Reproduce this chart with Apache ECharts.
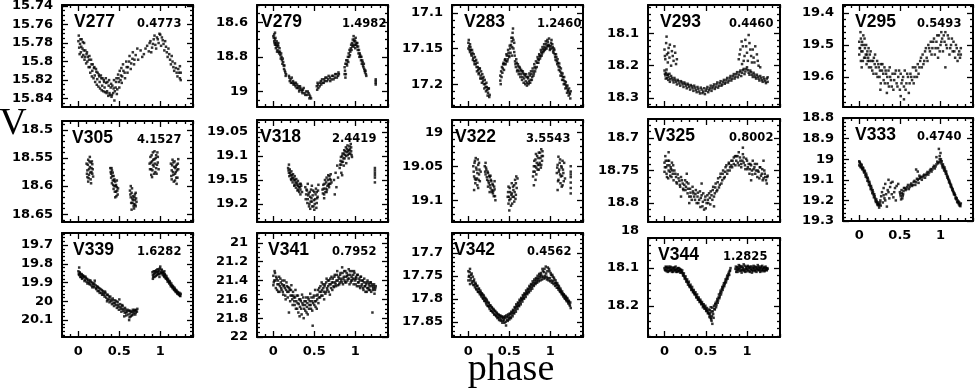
<!DOCTYPE html>
<html>
<head>
<meta charset="utf-8">
<script src="https://cdn.jsdelivr.net/npm/echarts@6.0.0/dist/echarts.min.js"></script>
<style>
html, body { margin: 0; padding: 0; background: #fff; }
#chart { width: 976px; height: 390px; }
</style>
</head>
<body>
<div id="chart"></div>
<script>
// star names and periods (days), in panel order
const stars = ['V277', 'V279', 'V283', 'V293', 'V295', 'V305', 'V318', 'V322', 'V325', 'V333', 'V339', 'V341', 'V342', 'V344'];
const periods = ['0.4773', '1.4982', '1.2460', '0.4460', '0.5493', '4.1527', '2.4419', '3.5543', '0.8002', '0.4740', '1.6282', '0.7952', '0.4562', '1.2825'];

// phase axis labels
const xLabels = [0, 0.5, 1];

// V axis labels per panel
const yLabels = [
  [15.74, 15.76, 15.78, 15.8, 15.82, 15.84],
  [18.6, 18.8, 19],
  [17.1, 17.15, 17.2],
  [18.1, 18.2, 18.3],
  [19.4, 19.5, 19.6],
  [18.5, 18.55, 18.6, 18.65],
  [19.05, 19.1, 19.15, 19.2],
  [19, 19.05, 19.1],
  [18.7, 18.75, 18.8],
  [18.8, 18.9, 19, 19.1, 19.2, 19.3],
  [19.7, 19.8, 19.9, 20, 20.1],
  [21, 21.2, 21.4, 21.6, 21.8, 22],
  [17.7, 17.75, 17.8, 17.85],
  [18.1, 18.2]
];

// light curves: [phase, V]
const v277 = [[0.00,15.778],[0.01,15.785],[0.02,15.781],[0.03,15.790],[0.04,15.776],[0.05,15.786],[0.06,15.793],[0.07,15.780],[0.08,15.795],[0.10,15.792],[0.11,15.800],[0.13,15.798],[0.14,15.806],[0.16,15.803],[0.17,15.810],[0.19,15.807],[0.20,15.815],[0.22,15.811],[0.23,15.819],[0.25,15.814],[0.26,15.822],[0.28,15.818],[0.29,15.826],[0.31,15.820],[0.32,15.828],[0.34,15.823],[0.35,15.832],[0.37,15.826],[0.38,15.834],[0.40,15.824],[0.41,15.836],[0.43,15.829],[0.44,15.842],[0.46,15.822],[0.47,15.835],[0.49,15.818],[0.50,15.828],[0.52,15.815],[0.53,15.823],[0.55,15.810],[0.57,15.818],[0.59,15.806],[0.60,15.812],[0.62,15.800],[0.64,15.808],[0.66,15.797],[0.68,15.803],[0.70,15.793],[0.73,15.798],[0.76,15.788],[0.80,15.792],[0.84,15.783],[0.86,15.789],[0.88,15.778],[0.90,15.785],[0.92,15.776],[0.94,15.782],[0.96,15.774],[0.98,15.780],[1.00,15.771],[1.01,15.783],[1.03,15.777],[1.05,15.788],[1.07,15.784],[1.09,15.795],[1.11,15.792],[1.13,15.803],[1.15,15.800],[1.17,15.810],[1.19,15.807],[1.21,15.816],[1.23,15.812],[1.25,15.820],[1.24,15.805],
  [0.005,15.772],[0.015,15.792],[0.025,15.776],[0.035,15.784],[0.045,15.795],[0.055,15.779],[0.065,15.788],[0.075,15.798],[0.085,15.788],[0.095,15.802],[0.105,15.790],[0.115,15.795],[0.125,15.806],[0.135,15.794],[0.145,15.812],[0.155,15.798],[0.165,15.816],[0.175,15.803],[0.185,15.818],[0.195,15.806],[0.205,15.822],[0.215,15.808],[0.225,15.825],[0.235,15.812],[0.245,15.827],[0.255,15.816],[0.265,15.829],[0.275,15.815],[0.285,15.831],[0.295,15.818],[0.305,15.832],[0.315,15.822],[0.325,15.833],[0.335,15.818],[0.345,15.834],[0.355,15.822],[0.365,15.837],[0.375,15.820],[0.385,15.836],[0.395,15.828],[0.405,15.838],[0.415,15.826],[0.425,15.834],[0.435,15.820],[0.445,15.832],[0.455,15.828],[0.465,15.818],[0.475,15.830],[0.485,15.814],[0.495,15.822],[0.505,15.810],[0.515,15.820],[0.525,15.807],[0.535,15.816],[0.545,15.803],[0.565,15.812],[0.585,15.800],[0.605,15.806],[0.625,15.794],[0.645,15.802],[0.665,15.790],[0.685,15.798],[0.72,15.786],[0.78,15.795],[0.82,15.786],[0.87,15.780],[0.89,15.790],[0.91,15.781],[0.93,15.772],[0.95,15.786],[0.97,15.776],[0.99,15.770],[1.02,15.774],[1.04,15.781],[1.06,15.778],[1.08,15.790],[1.10,15.786],[1.12,15.798],[1.14,15.794],[1.16,15.806],[1.18,15.802],[1.20,15.812],[1.22,15.808],[1.24,15.818],[1.25,15.812]];

const v279 = [[0.00,18.68],[0.01,18.71],[0.02,18.70],[0.02,18.73],[0.03,18.72],[0.04,18.74],[0.04,18.71],[0.05,18.76],[0.06,18.74],[0.07,18.78],[0.08,18.77],[0.09,18.81],[0.10,18.80],[0.11,18.84],[0.12,18.83],[0.13,18.87],[0.14,18.88],[0.15,18.91],[0.01,18.67],[0.03,18.75],
  [0.005,18.69],[0.015,18.72],[0.025,18.69],[0.035,18.73],[0.045,18.77],[0.055,18.73],[0.065,18.77],[0.075,18.75],[0.085,18.79],[0.095,18.78],[0.105,18.82],[0.115,18.81],[0.125,18.85],[0.135,18.85],[0.145,18.89],[0.155,18.90],[0.02,18.66],[0.06,18.72],
  [0.19,18.91],[0.20,18.94],[0.21,18.93],[0.23,18.95],[0.24,18.94],[0.26,18.96],[0.27,18.97],[0.29,18.96],[0.30,18.98],[0.32,18.99],[0.33,18.98],[0.35,19.00],[0.36,18.99],[0.38,19.01],[0.40,19.00],[0.41,19.02],[0.43,19.01],[0.45,19.03],[0.44,19.04],
  [0.195,18.92],[0.215,18.95],[0.225,18.92],[0.245,18.96],[0.255,18.95],[0.275,18.95],[0.285,18.98],[0.305,18.97],[0.315,19.00],[0.325,18.97],[0.345,18.99],[0.355,19.01],[0.37,18.98],[0.39,19.02],[0.42,19.00],[0.44,19.02],[0.46,19.04],
  [0.53,18.97],[0.54,18.95],[0.55,18.98],[0.57,18.95],[0.58,18.94],[0.60,18.95],[0.62,18.93],[0.63,18.94],[0.65,18.92],[0.67,18.93],[0.69,18.92],[0.71,18.93],[0.73,18.91],[0.75,18.92],[0.77,18.90],[0.79,18.91],[0.80,18.90],
  [0.535,18.99],[0.545,18.96],[0.565,18.97],[0.585,18.96],[0.595,18.93],[0.615,18.95],[0.635,18.92],[0.655,18.94],[0.675,18.91],[0.695,18.94],[0.715,18.91],[0.735,18.93],[0.755,18.90],[0.775,18.92],[0.795,18.89],
  [0.87,18.90],[0.87,18.86],[0.88,18.92],[0.88,18.84],[0.89,18.82],[0.90,18.85],[0.91,18.80],[0.92,18.78],[0.93,18.76],[0.94,18.77],[0.95,18.73],[0.96,18.72],[0.97,18.70],[0.98,18.68],[0.98,18.74],[0.99,18.70],[1.00,18.71],[1.00,18.75],[1.01,18.73],[1.02,18.74],[1.03,18.76],[1.04,18.78],[1.05,18.80],[1.06,18.79],[1.07,18.82],[1.08,18.84],[1.09,18.83],[1.10,18.86],[1.11,18.87],[1.12,18.89],[1.13,18.90],
  [0.875,18.88],[0.885,18.90],[0.895,18.84],[0.905,18.82],[0.915,18.83],[0.925,18.80],[0.935,18.79],[0.945,18.75],[0.955,18.76],[0.965,18.74],[0.975,18.73],[0.985,18.71],[0.995,18.73],[1.005,18.69],[1.015,18.72],[1.025,18.72],[1.035,18.74],[1.045,18.76],[1.055,18.78],[1.065,18.80],[1.075,18.80],[1.085,18.82],[1.095,18.85],[1.105,18.84],[1.115,18.88],[1.125,18.88],[1.135,18.91],
  [1.25,18.93],[1.25,18.95],[1.25,18.94],[1.25,18.96]];

const v283 = [[0.00,17.142],[0.00,17.150],[0.01,17.147],[0.02,17.155],[0.02,17.144],[0.03,17.152],[0.04,17.160],[0.05,17.156],[0.06,17.163],[0.07,17.168],[0.08,17.162],[0.09,17.172],[0.10,17.176],[0.11,17.170],[0.12,17.180],[0.13,17.184],[0.14,17.178],[0.15,17.188],[0.16,17.192],[0.17,17.186],[0.18,17.196],[0.19,17.200],[0.20,17.194],[0.21,17.204],[0.22,17.198],[0.23,17.208],[0.24,17.212],[0.25,17.206],[0.26,17.215],
  [0.005,17.138],[0.015,17.152],[0.025,17.148],[0.035,17.158],[0.045,17.152],[0.055,17.166],[0.065,17.158],[0.075,17.172],[0.085,17.168],[0.095,17.166],[0.105,17.182],[0.115,17.176],[0.125,17.186],[0.135,17.178],[0.145,17.192],[0.155,17.182],[0.165,17.198],[0.175,17.192],[0.185,17.190],[0.195,17.206],[0.205,17.200],[0.215,17.210],[0.225,17.204],[0.235,17.216],[0.245,17.206],[0.255,17.218],
  [0.39,17.195],[0.39,17.188],[0.40,17.182],[0.41,17.176],[0.42,17.178],[0.43,17.170],[0.44,17.172],[0.45,17.165],[0.46,17.168],[0.47,17.160],[0.48,17.165],[0.49,17.156],[0.50,17.162],[0.51,17.150],[0.52,17.145],[0.53,17.140],[0.54,17.135],[0.54,17.128],[0.55,17.150],[0.56,17.142],[0.53,17.160],[0.56,17.155],
  [0.395,17.200],[0.405,17.190],[0.415,17.184],[0.425,17.172],[0.435,17.180],[0.445,17.166],[0.455,17.172],[0.465,17.158],[0.475,17.168],[0.485,17.152],[0.495,17.160],[0.505,17.146],[0.515,17.156],[0.525,17.135],[0.535,17.148],[0.545,17.122],[0.55,17.138],[0.565,17.160],[0.575,17.172],
  [0.57,17.168],[0.58,17.176],[0.59,17.170],[0.60,17.180],[0.61,17.175],[0.62,17.182],[0.63,17.178],[0.64,17.186],[0.65,17.182],[0.66,17.190],[0.67,17.185],[0.68,17.192],[0.69,17.188],[0.70,17.196],[0.71,17.190],[0.72,17.198],[0.73,17.192],[0.74,17.196],[0.75,17.188],[0.76,17.194],[0.77,17.186],[0.78,17.190],[0.79,17.182],[0.80,17.185],[0.81,17.176],[0.82,17.178],
  [0.585,17.165],[0.595,17.182],[0.605,17.172],[0.615,17.186],[0.625,17.176],[0.635,17.190],[0.645,17.180],[0.655,17.194],[0.665,17.182],[0.675,17.198],[0.685,17.186],[0.695,17.200],[0.705,17.186],[0.715,17.202],[0.725,17.190],[0.735,17.200],[0.745,17.185],[0.755,17.198],[0.765,17.182],[0.775,17.194],[0.785,17.178],[0.795,17.188],[0.805,17.172],[0.815,17.182],[0.825,17.168],[0.835,17.176],
  [0.84,17.170],[0.85,17.165],[0.86,17.166],[0.87,17.160],[0.88,17.161],[0.89,17.155],[0.90,17.157],[0.91,17.151],[0.92,17.153],[0.93,17.148],[0.94,17.150],[0.95,17.144],[0.96,17.147],[0.97,17.141],[0.98,17.145],[0.99,17.147],[1.00,17.150],
  [0.845,17.162],[0.855,17.170],[0.865,17.158],[0.875,17.164],[0.885,17.152],[0.895,17.160],[0.905,17.148],[0.915,17.155],[0.925,17.144],[0.935,17.152],[0.945,17.140],[0.955,17.150],[0.965,17.138],[0.975,17.146],[0.985,17.136],[0.995,17.152],
  [1.01,17.142],[1.02,17.150],[1.03,17.148],[1.04,17.156],[1.05,17.152],[1.06,17.162],[1.07,17.158],[1.08,17.168],[1.09,17.165],[1.10,17.175],[1.11,17.171],[1.12,17.182],[1.13,17.178],[1.14,17.188],[1.15,17.185],[1.16,17.194],[1.17,17.190],[1.18,17.200],[1.19,17.197],[1.20,17.205],[1.21,17.202],[1.22,17.210],[1.23,17.206],[1.24,17.214],[1.25,17.210],
  [1.005,17.146],[1.015,17.138],[1.025,17.144],[1.035,17.154],[1.045,17.150],[1.055,17.158],[1.065,17.166],[1.075,17.162],[1.085,17.172],[1.095,17.170],[1.105,17.180],[1.115,17.176],[1.125,17.188],[1.135,17.184],[1.145,17.194],[1.155,17.190],[1.165,17.200],[1.175,17.196],[1.185,17.206],[1.195,17.202],[1.205,17.212],[1.215,17.208],[1.225,17.216],[1.235,17.212],[1.245,17.220]];

const v293 = [[0.00,18.215],[0.01,18.230],[0.02,18.222],[0.03,18.238],[0.04,18.228],[0.05,18.235],[0.07,18.242],[0.08,18.232],[0.10,18.245],[0.12,18.238],[0.14,18.250],[0.16,18.244],[0.18,18.255],[0.20,18.248],[0.22,18.258],[0.24,18.252],[0.26,18.262],[0.28,18.256],[0.30,18.266],[0.32,18.260],[0.34,18.270],[0.36,18.262],[0.38,18.275],[0.40,18.266],[0.42,18.280],[0.44,18.268],[0.46,18.285],[0.48,18.270],[0.50,18.278],[0.52,18.266],[0.54,18.275],[0.56,18.262],[0.58,18.270],[0.60,18.258],[0.62,18.266],[0.64,18.252],[0.66,18.262],[0.68,18.248],[0.70,18.258],[0.72,18.244],[0.74,18.252],[0.76,18.238],[0.78,18.246],[0.80,18.232],[0.82,18.240],[0.84,18.226],[0.86,18.234],[0.88,18.220],[0.90,18.228],[0.92,18.215],[0.94,18.222],[0.96,18.210],[0.98,18.218],[1.00,18.205],[1.02,18.222],[1.04,18.215],[1.06,18.228],[1.08,18.222],[1.10,18.235],[1.12,18.228],[1.14,18.240],[1.16,18.232],[1.18,18.245],[1.20,18.236],[1.22,18.248],[1.24,18.240],[1.25,18.250],
  [0.005,18.225],[0.015,18.240],[0.025,18.212],[0.035,18.228],[0.045,18.244],[0.06,18.225],[0.065,18.250],[0.09,18.238],[0.11,18.252],[0.13,18.244],[0.15,18.258],[0.17,18.248],[0.19,18.262],[0.21,18.252],[0.23,18.266],[0.25,18.256],[0.27,18.270],[0.29,18.260],[0.31,18.274],[0.33,18.264],[0.35,18.278],[0.37,18.268],[0.39,18.282],[0.41,18.272],[0.43,18.286],[0.45,18.274],[0.47,18.280],[0.49,18.288],[0.51,18.272],[0.53,18.282],[0.55,18.270],[0.57,18.278],[0.59,18.264],[0.61,18.272],[0.63,18.258],[0.65,18.268],[0.67,18.254],[0.69,18.262],[0.71,18.250],[0.73,18.256],[0.75,18.244],[0.77,18.252],[0.79,18.238],[0.81,18.246],[0.83,18.232],[0.85,18.240],[0.87,18.226],[0.89,18.236],[0.91,18.220],[0.93,18.232],[0.95,18.214],[0.97,18.226],[0.99,18.210],[1.01,18.214],[1.03,18.228],[1.05,18.220],[1.07,18.235],[1.09,18.228],[1.11,18.240],[1.13,18.234],[1.15,18.246],[1.17,18.238],[1.19,18.250],[1.21,18.242],[1.23,18.254],[1.25,18.236],
  [0.00,18.150],[0.01,18.180],[0.02,18.130],[0.03,18.165],[0.04,18.190],[0.05,18.145],[0.06,18.175],[0.08,18.200],[0.09,18.155],[0.11,18.185],[0.12,18.140],[0.14,18.195],[0.90,18.180],[0.92,18.150],[0.94,18.195],[0.95,18.140],[0.97,18.170],[0.98,18.120],[1.00,18.160],[1.01,18.185],[1.03,18.130],[1.05,18.170],[1.07,18.150],[1.09,18.190],[1.12,18.165],[1.14,18.200],
  [0.005,18.170],[0.025,18.110],[0.045,18.160],[0.065,18.135],[0.10,18.170],[0.13,18.160],[0.15,18.180],[0.91,18.165],[0.935,18.125],[0.96,18.185],[0.99,18.140],[1.02,18.105],[1.04,18.150],[1.06,18.190],[1.08,18.175],[1.10,18.140],[1.13,18.185],[1.16,18.205]];

const v295 = [[0.00,19.49],[0.00,19.53],[0.01,19.51],[0.02,19.48],[0.02,19.55],[0.03,19.50],[0.04,19.52],[0.05,19.47],[0.06,19.54],[0.07,19.51],[0.08,19.53],[0.09,19.56],[0.10,19.52],[0.11,19.54],[0.12,19.57],[0.13,19.53],[0.15,19.55],[0.16,19.58],[0.18,19.54],[0.19,19.56],[0.21,19.59],[0.22,19.55],[0.24,19.57],[0.25,19.60],[0.27,19.56],[0.28,19.58],[0.30,19.61],[0.31,19.57],[0.33,19.59],[0.35,19.62],[0.36,19.58],[0.38,19.60],[0.40,19.63],[0.41,19.59],[0.43,19.61],[0.45,19.58],[0.46,19.62],[0.48,19.60],[0.50,19.64],[0.51,19.59],[0.53,19.61],[0.55,19.63],[0.56,19.58],[0.58,19.62],[0.60,19.60],[0.61,19.65],[0.63,19.59],[0.65,19.61],[0.66,19.57],[0.68,19.60],[0.70,19.58],[0.72,19.56],[0.73,19.59],[0.75,19.55],[0.77,19.57],[0.78,19.53],[0.80,19.55],[0.82,19.51],[0.83,19.54],[0.85,19.50],[0.87,19.52],[0.88,19.49],[0.90,19.51],[0.92,19.48],[0.93,19.53],[0.95,19.49],[0.97,19.51],[0.98,19.47],[1.00,19.50],[1.02,19.48],[1.03,19.52],[1.05,19.49],[1.06,19.46],[1.08,19.51],[1.10,19.48],[1.11,19.53],[1.13,19.50],[1.15,19.52],[1.16,19.49],[1.18,19.54],[1.20,19.51],[1.21,19.55],[1.23,19.52],[1.24,19.54],[1.25,19.53],[0.34,19.65],[0.55,19.67],[0.03,19.57],[1.06,19.57],
  [0.005,19.51],[0.015,19.46],[0.025,19.52],[0.035,19.49],[0.045,19.55],[0.055,19.50],[0.065,19.48],[0.075,19.54],[0.085,19.50],[0.095,19.53],[0.105,19.55],[0.115,19.51],[0.125,19.55],[0.14,19.52],[0.145,19.57],[0.17,19.55],[0.175,19.59],[0.195,19.53],[0.205,19.57],[0.225,19.60],[0.235,19.56],[0.255,19.58],[0.265,19.62],[0.285,19.56],[0.295,19.59],[0.315,19.62],[0.325,19.58],[0.345,19.60],[0.365,19.63],[0.375,19.57],[0.39,19.61],[0.42,19.64],[0.44,19.59],[0.47,19.63],[0.49,19.58],[0.52,19.62],[0.54,19.60],[0.57,19.64],[0.59,19.59],[0.62,19.62],[0.64,19.60],[0.67,19.62],[0.69,19.57],[0.71,19.60],[0.74,19.57],[0.76,19.54],[0.79,19.56],[0.81,19.52],[0.84,19.55],[0.86,19.51],[0.89,19.53],[0.91,19.49],[0.94,19.51],[0.96,19.47],[0.99,19.52],[1.01,19.49],[1.04,19.47],[1.07,19.50],[1.09,19.47],[1.12,19.51],[1.14,19.48],[1.17,19.52],[1.19,19.50],[1.22,19.53],[1.25,19.51],[0.97,19.54],[1.01,19.46],[0.51,19.66],[0.26,19.64]];

const v305 = [[0.10,18.560],[0.11,18.572],[0.12,18.553],[0.13,18.580],[0.14,18.566],[0.15,18.588],[0.16,18.575],[0.17,18.561],[0.11,18.584],[0.13,18.570],[0.15,18.558],[0.17,18.578],[0.12,18.592],[0.14,18.548],[0.16,18.568],[0.18,18.583],
  [0.105,18.578],[0.115,18.562],[0.125,18.586],[0.135,18.556],[0.145,18.576],[0.155,18.595],[0.165,18.556],[0.175,18.570],
  [0.39,18.568],[0.40,18.578],[0.41,18.572],[0.42,18.590],[0.43,18.582],[0.44,18.600],[0.45,18.592],[0.46,18.610],[0.47,18.602],[0.48,18.615],[0.40,18.585],[0.42,18.576],[0.44,18.588],[0.46,18.598],[0.45,18.620],[0.43,18.605],[0.47,18.590],[0.41,18.595],
  [0.395,18.575],[0.405,18.568],[0.415,18.582],[0.425,18.598],[0.435,18.590],[0.445,18.610],[0.455,18.600],[0.465,18.618],[0.475,18.608],[0.485,18.604],
  [0.63,18.608],[0.64,18.620],[0.65,18.612],[0.66,18.630],[0.67,18.618],[0.68,18.640],[0.69,18.625],[0.70,18.612],[0.71,18.628],[0.64,18.600],[0.66,18.622],[0.68,18.632],[0.70,18.636],[0.65,18.642],[0.69,18.615],
  [0.635,18.615],[0.645,18.630],[0.655,18.604],[0.665,18.625],[0.675,18.636],[0.685,18.620],[0.695,18.633],[0.705,18.622],
  [0.87,18.560],[0.88,18.548],[0.89,18.570],[0.90,18.556],[0.91,18.540],[0.92,18.565],[0.93,18.552],[0.94,18.575],[0.95,18.545],[0.96,18.562],[0.97,18.558],[0.98,18.570],[0.89,18.580],[0.91,18.562],[0.93,18.538],[0.95,18.568],[0.97,18.548],[0.90,18.584],
  [0.875,18.570],[0.885,18.558],[0.895,18.545],[0.905,18.572],[0.915,18.553],[0.925,18.578],[0.935,18.560],[0.945,18.550],[0.955,18.578],[0.965,18.540],
  [1.13,18.560],[1.14,18.572],[1.15,18.553],[1.16,18.580],[1.17,18.566],[1.18,18.590],[1.19,18.575],[1.20,18.562],[1.21,18.585],[1.22,18.570],[1.14,18.588],[1.16,18.558],[1.18,18.578],[1.20,18.596],[1.22,18.552],[1.19,18.565],
  [1.135,18.582],[1.145,18.563],[1.155,18.575],[1.165,18.592],[1.175,18.556],[1.185,18.568],[1.195,18.585],[1.205,18.572],[1.215,18.560]];

const v318 = [[0.18,19.125],[0.19,19.135],[0.20,19.128],[0.21,19.140],[0.22,19.132],[0.23,19.145],[0.24,19.138],[0.25,19.150],[0.26,19.142],[0.27,19.155],[0.28,19.148],[0.29,19.160],[0.30,19.152],[0.31,19.165],[0.32,19.158],[0.33,19.170],[0.34,19.162],[0.35,19.175],[0.19,19.118],[0.22,19.150],[0.26,19.160],[0.30,19.170],[0.33,19.180],
  [0.185,19.130],[0.195,19.142],[0.205,19.135],[0.215,19.148],[0.225,19.140],[0.235,19.155],[0.245,19.146],[0.255,19.162],[0.265,19.150],[0.275,19.166],[0.285,19.156],[0.295,19.172],[0.305,19.162],[0.315,19.175],[0.325,19.165],[0.335,19.158],
  [0.39,19.165],[0.40,19.180],[0.41,19.172],[0.42,19.190],[0.43,19.178],[0.44,19.200],[0.45,19.185],[0.46,19.170],[0.47,19.195],[0.48,19.182],[0.49,19.205],[0.50,19.175],[0.51,19.190],[0.52,19.168],[0.53,19.198],[0.54,19.185],[0.55,19.160],[0.42,19.158],[0.45,19.210],[0.50,19.212],[0.47,19.162],[0.53,19.175],
  [0.395,19.190],[0.405,19.170],[0.415,19.198],[0.425,19.182],[0.435,19.205],[0.445,19.175],[0.455,19.195],[0.465,19.188],[0.475,19.205],[0.485,19.172],[0.495,19.192],[0.505,19.200],[0.515,19.180],[0.525,19.208],[0.535,19.188],[0.545,19.172],
  [0.60,19.170],[0.61,19.160],[0.62,19.180],[0.63,19.150],[0.64,19.168],[0.65,19.145],[0.66,19.162],[0.67,19.140],[0.68,19.158],[0.69,19.148],[0.70,19.138],[0.71,19.155],[0.62,19.188],[0.65,19.175],[0.68,19.165],[0.70,19.150],
  [0.605,19.178],[0.615,19.168],[0.625,19.158],[0.635,19.175],[0.645,19.155],[0.655,19.170],[0.665,19.150],[0.675,19.160],[0.685,19.142],[0.695,19.158],
  [0.74,19.150],[0.75,19.180],[0.76,19.135],[0.77,19.165],[0.78,19.120],[0.79,19.145],
  [0.81,19.125],[0.82,19.110],[0.83,19.118],[0.84,19.100],[0.85,19.112],[0.86,19.095],[0.87,19.105],[0.88,19.090],[0.89,19.100],[0.90,19.085],[0.91,19.098],[0.92,19.088],[0.93,19.080],[0.94,19.095],[0.95,19.090],[0.96,19.102],[0.83,19.135],[0.86,19.120],[0.89,19.115],[0.92,19.105],[0.95,19.082],[0.84,19.140],
  [0.815,19.118],[0.825,19.102],[0.835,19.112],[0.845,19.095],[0.855,19.105],[0.865,19.088],[0.875,19.098],[0.885,19.082],[0.895,19.092],[0.905,19.078],[0.915,19.090],[0.925,19.095],[0.935,19.086],[0.945,19.075],[0.955,19.098],
  [1.24,19.125],[1.24,19.135],[1.24,19.145],[1.24,19.155],[1.24,19.140],[1.24,19.130]];

const v322 = [[0.06,19.050],[0.07,19.065],[0.08,19.042],[0.09,19.070],[0.10,19.055],[0.11,19.078],[0.12,19.048],[0.13,19.062],[0.14,19.072],[0.15,19.058],[0.07,19.085],[0.09,19.038],[0.11,19.060],[0.13,19.045],[0.08,19.068],[0.12,19.082],
  [0.065,19.058],[0.075,19.045],[0.085,19.075],[0.095,19.052],[0.105,19.068],[0.115,19.040],[0.125,19.070],[0.135,19.055],
  [0.20,19.050],[0.21,19.062],[0.22,19.055],[0.23,19.070],[0.24,19.060],[0.25,19.075],[0.26,19.066],[0.27,19.082],[0.28,19.072],[0.29,19.088],[0.30,19.078],[0.31,19.094],[0.32,19.084],[0.33,19.100],[0.21,19.045],[0.24,19.080],[0.27,19.064],[0.30,19.090],[0.32,19.072],[0.26,19.088],
  [0.205,19.058],[0.215,19.052],[0.225,19.066],[0.235,19.058],[0.245,19.072],[0.255,19.064],[0.265,19.078],[0.275,19.070],[0.285,19.085],[0.295,19.076],[0.305,19.086],[0.315,19.080],[0.325,19.094],
  [0.48,19.095],[0.49,19.080],[0.50,19.100],[0.51,19.088],[0.52,19.108],[0.53,19.075],[0.54,19.095],[0.55,19.085],[0.56,19.102],[0.57,19.070],[0.58,19.092],[0.59,19.082],[0.60,19.068],[0.50,19.115],[0.53,19.090],[0.56,19.078],[0.49,19.105],[0.58,19.075],
  [0.485,19.088],[0.495,19.095],[0.505,19.082],[0.515,19.098],[0.525,19.092],[0.535,19.105],[0.545,19.080],[0.555,19.095],[0.565,19.088],[0.575,19.098],[0.585,19.065],
  [0.79,19.065],[0.80,19.050],[0.81,19.058],[0.82,19.040],[0.83,19.052],[0.84,19.035],[0.85,19.048],[0.86,19.030],[0.87,19.045],[0.88,19.038],[0.89,19.025],[0.90,19.042],[0.91,19.035],[0.80,19.078],[0.83,19.062],[0.86,19.055],[0.89,19.048],[0.82,19.070],
  [0.795,19.058],[0.805,19.042],[0.815,19.050],[0.825,19.032],[0.835,19.045],[0.845,19.055],[0.855,19.038],[0.865,19.048],[0.875,19.030],[0.885,19.052],[0.895,19.035],[0.905,19.028],
  [1.08,19.060],[1.09,19.048],[1.10,19.070],[1.11,19.055],[1.12,19.040],[1.13,19.065],[1.14,19.052],[1.15,19.078],[1.16,19.060],[1.17,19.045],[1.18,19.068],[1.09,19.085],[1.12,19.062],[1.15,19.042],[1.10,19.036],[1.14,19.080],
  [1.085,19.052],[1.095,19.072],[1.105,19.058],[1.115,19.045],[1.125,19.075],[1.135,19.050],[1.145,19.064],[1.155,19.055],[1.165,19.072],
  [1.25,19.050],[1.25,19.058],[1.25,19.066],[1.25,19.074],[1.25,19.082],[1.25,19.090],[1.25,19.062]];

const v325 = [[0.00,18.738],[0.00,18.752],[0.01,18.728],[0.02,18.745],[0.03,18.760],[0.04,18.735],[0.05,18.750],[0.06,18.742],[0.07,18.758],[0.08,18.748],[0.09,18.738],[0.10,18.755],[0.11,18.765],[0.12,18.750],[0.14,18.760],[0.15,18.770],[0.16,18.756],[0.18,18.766],[0.19,18.775],[0.20,18.760],[0.22,18.770],[0.23,18.780],[0.25,18.765],[0.26,18.775],[0.28,18.785],[0.29,18.770],[0.31,18.778],[0.32,18.790],[0.34,18.775],[0.35,18.785],[0.37,18.795],[0.38,18.780],[0.40,18.790],[0.41,18.800],[0.43,18.782],[0.44,18.792],[0.46,18.805],[0.47,18.785],[0.49,18.795],[0.50,18.808],[0.52,18.788],[0.53,18.800],[0.55,18.792],[0.56,18.782],[0.58,18.795],[0.59,18.775],[0.61,18.785],[0.62,18.770],[0.64,18.780],[0.65,18.762],[0.67,18.772],[0.68,18.755],[0.70,18.765],[0.71,18.750],[0.73,18.760],[0.74,18.745],[0.76,18.755],[0.78,18.740],[0.79,18.750],[0.81,18.735],[0.82,18.745],[0.84,18.730],[0.86,18.742],[0.87,18.728],[0.89,18.738],[0.90,18.722],[0.92,18.735],[0.93,18.745],[0.95,18.725],[0.96,18.738],[0.98,18.748],[1.00,18.735],[1.01,18.745],[1.03,18.755],[1.04,18.740],[1.06,18.750],[1.07,18.735],[1.09,18.745],[1.10,18.755],[1.12,18.740],[1.13,18.750],[1.15,18.762],[1.16,18.745],[1.18,18.755],[1.19,18.765],[1.21,18.750],[1.22,18.760],[1.24,18.770],[1.25,18.758],
  [0.05,18.722],[0.20,18.790],[0.30,18.800],[0.45,18.770],[0.60,18.805],[0.95,18.715],[1.05,18.765],[1.20,18.735],[0.27,18.755],
  [0.005,18.745],[0.015,18.735],[0.025,18.755],[0.035,18.742],[0.045,18.762],[0.055,18.735],[0.065,18.752],[0.075,18.745],[0.085,18.760],[0.095,18.750],[0.105,18.742],[0.13,18.755],[0.145,18.768],[0.17,18.762],[0.185,18.772],[0.21,18.765],[0.225,18.778],[0.24,18.772],[0.255,18.780],[0.27,18.768],[0.285,18.778],[0.30,18.790],[0.315,18.784],[0.33,18.795],[0.345,18.782],[0.36,18.790],[0.375,18.786],[0.39,18.800],[0.405,18.784],[0.42,18.795],[0.435,18.806],[0.45,18.788],[0.465,18.798],[0.48,18.810],[0.495,18.790],[0.51,18.800],[0.525,18.795],[0.54,18.785],[0.555,18.802],[0.57,18.788],[0.585,18.780],[0.60,18.790],[0.615,18.776],[0.63,18.782],[0.645,18.768],[0.66,18.776],[0.675,18.760],[0.69,18.770],[0.705,18.755],[0.72,18.762],[0.735,18.752],[0.75,18.742],[0.765,18.750],[0.78,18.738],[0.795,18.745],[0.81,18.742],[0.825,18.735],[0.84,18.740],[0.855,18.728],[0.87,18.735],[0.885,18.728],[0.90,18.742],[0.915,18.730],[0.93,18.740],[0.945,18.735],[0.96,18.730],[0.975,18.742],[0.99,18.732],[1.005,18.748],[1.02,18.740],[1.035,18.748],[1.05,18.742],[1.065,18.756],[1.08,18.748],[1.095,18.740],[1.11,18.750],[1.125,18.760],[1.14,18.752],[1.155,18.745],[1.17,18.758],[1.185,18.748],[1.20,18.762],[1.215,18.755],[1.23,18.765],[1.245,18.760]];

const v333 = [[0.00,19.010],[0.00,19.030],[0.01,19.020],[0.02,19.040],[0.03,19.030],[0.04,19.050],[0.05,19.045],[0.06,19.065],[0.07,19.060],[0.08,19.085],[0.09,19.080],[0.10,19.105],[0.11,19.100],[0.12,19.125],[0.13,19.120],[0.14,19.145],[0.15,19.140],[0.16,19.165],[0.17,19.160],[0.18,19.185],[0.19,19.180],[0.20,19.200],[0.21,19.195],[0.22,19.215],[0.23,19.210],[0.24,19.225],[0.25,19.220],[0.26,19.200],[0.27,19.180],[0.28,19.160],[0.29,19.210],[0.30,19.140],[0.31,19.190],[0.32,19.120],[0.33,19.170],[0.34,19.230],[0.35,19.150],[0.36,19.100],[0.37,19.190],[0.38,19.135],[0.40,19.170],[0.41,19.110],[0.43,19.160],[0.45,19.200],[0.46,19.130],[0.50,19.160],[0.51,19.180],[0.52,19.150],[0.53,19.190],[0.54,19.170],[0.55,19.140],[0.57,19.150],[0.59,19.135],[0.61,19.145],[0.63,19.125],[0.65,19.130],[0.67,19.110],[0.69,19.125],[0.71,19.095],[0.73,19.115],[0.75,19.090],[0.77,19.100],[0.79,19.080],[0.81,19.090],[0.83,19.070],[0.85,19.075],[0.87,19.055],[0.89,19.060],[0.91,19.040],[0.93,19.045],[0.95,19.025],[0.97,19.020],[0.99,19.000],[1.00,19.010],[1.00,18.970],[1.01,19.020],[1.02,19.030],[1.03,19.025],[1.04,19.045],[1.05,19.040],[1.06,19.060],[1.07,19.060],[1.08,19.080],[1.09,19.085],[1.10,19.100],[1.11,19.105],[1.12,19.120],[1.13,19.125],[1.14,19.140],[1.15,19.145],[1.16,19.160],[1.17,19.165],[1.18,19.175],[1.19,19.185],[1.20,19.190],[1.21,19.200],[1.22,19.205],[1.23,19.210],[1.24,19.220],[1.25,19.215],
  [0.95,18.990],[0.98,18.950],[0.72,19.060],[0.70,19.050],[0.74,19.080],
  [0.005,19.015],[0.015,19.035],[0.025,19.025],[0.035,19.045],[0.045,19.040],[0.055,19.058],[0.065,19.055],[0.075,19.075],[0.085,19.070],[0.095,19.092],[0.105,19.090],[0.115,19.112],[0.125,19.110],[0.135,19.132],[0.145,19.130],[0.155,19.152],[0.165,19.150],[0.175,19.172],[0.185,19.170],[0.195,19.190],[0.205,19.208],[0.215,19.205],[0.225,19.222],[0.235,19.218],[0.245,19.235],[0.255,19.210],[0.265,19.225],[0.30,19.175],[0.32,19.200],[0.36,19.160],[0.39,19.115],[0.42,19.185],[0.44,19.140],[0.48,19.120],[0.505,19.170],[0.515,19.195],[0.525,19.165],[0.535,19.178],[0.545,19.155],[0.56,19.140],[0.58,19.145],[0.60,19.125],[0.62,19.135],[0.64,19.118],[0.66,19.125],[0.68,19.105],[0.70,19.112],[0.72,19.100],[0.74,19.095],[0.76,19.085],[0.78,19.088],[0.80,19.075],[0.82,19.078],[0.84,19.062],[0.86,19.065],[0.88,19.048],[0.90,19.050],[0.92,19.032],[0.94,19.035],[0.96,19.012],[0.98,19.015],[0.99,18.985],[1.005,19.000],[1.015,19.010],[1.025,19.040],[1.035,19.035],[1.045,19.055],[1.055,19.050],[1.065,19.070],[1.075,19.072],[1.085,19.090],[1.095,19.095],[1.105,19.112],[1.115,19.115],[1.125,19.132],[1.135,19.135],[1.145,19.150],[1.155,19.155],[1.165,19.170],[1.175,19.172],[1.185,19.190],[1.195,19.195],[1.205,19.208],[1.215,19.210],[1.225,19.218],[1.235,19.225],[1.245,19.228]];

const v339 = [[0.00,19.840],[0.01,19.860],[0.02,19.850],[0.03,19.870],[0.04,19.855],[0.05,19.875],[0.06,19.865],[0.08,19.885],[0.09,19.875],[0.10,19.895],[0.12,19.885],[0.13,19.905],[0.15,19.895],[0.16,19.915],[0.18,19.905],[0.19,19.925],[0.21,19.915],[0.22,19.935],[0.24,19.925],[0.25,19.945],[0.27,19.935],[0.28,19.955],[0.30,19.945],[0.31,19.965],[0.33,19.955],[0.34,19.980],[0.36,19.965],[0.37,19.990],[0.39,19.975],[0.40,20.000],[0.42,19.985],[0.43,20.010],[0.45,19.995],[0.46,20.020],[0.48,20.005],[0.49,20.030],[0.51,20.015],[0.52,20.040],[0.54,20.025],[0.55,20.050],[0.57,20.035],[0.58,20.060],[0.60,20.045],[0.61,20.070],[0.63,20.050],[0.64,20.080],[0.66,20.055],[0.67,20.070],[0.69,20.045],[0.70,20.060],[0.72,20.040],[0.01,19.820],[0.20,19.890],[0.35,20.000],[0.50,19.990],[0.62,20.100],[0.56,20.080],
  [0.005,19.855],[0.015,19.845],[0.025,19.870],[0.035,19.858],[0.045,19.880],[0.055,19.862],[0.07,19.870],[0.075,19.892],[0.085,19.868],[0.105,19.880],[0.11,19.905],[0.125,19.895],[0.14,19.910],[0.145,19.888],[0.165,19.900],[0.17,19.925],[0.185,19.915],[0.195,19.905],[0.215,19.930],[0.23,19.920],[0.235,19.945],[0.255,19.930],[0.26,19.955],[0.285,19.940],[0.29,19.965],[0.305,19.955],[0.32,19.975],[0.325,19.948],[0.345,19.965],[0.355,19.990],[0.375,19.975],[0.38,20.005],[0.395,19.990],[0.41,20.015],[0.425,19.995],[0.435,20.025],[0.445,20.010],[0.465,20.000],[0.47,20.035],[0.485,20.020],[0.495,20.045],[0.515,20.030],[0.525,20.055],[0.535,20.020],[0.545,20.040],[0.565,20.060],[0.575,20.045],[0.585,20.075],[0.595,20.055],[0.615,20.050],[0.625,20.085],[0.635,20.065],[0.645,20.055],[0.655,20.075],[0.665,20.045],[0.675,20.060],[0.685,20.050],[0.695,20.070],[0.705,20.048],[0.715,20.055],
  [0.91,19.860],[0.92,19.840],[0.93,19.870],[0.94,19.850],[0.95,19.835],[0.96,19.860],[0.97,19.845],[0.98,19.830],[0.99,19.855],[1.00,19.815],[1.01,19.845],[1.02,19.835],[1.03,19.860],[1.04,19.850],[1.05,19.870],[1.06,19.860],[1.07,19.880],[1.08,19.875],[1.09,19.895],[1.10,19.890],[1.11,19.905],[1.12,19.900],[1.13,19.920],[1.14,19.915],[1.15,19.930],[1.16,19.925],[1.17,19.940],[1.18,19.935],[1.19,19.950],[1.20,19.945],[1.21,19.960],[1.22,19.955],[1.23,19.965],[1.24,19.970],[1.25,19.960],[0.91,19.880],[0.99,19.870],[1.05,19.840],
  [0.905,19.845],[0.915,19.870],[0.925,19.855],[0.935,19.840],[0.945,19.865],[0.955,19.845],[0.965,19.830],[0.975,19.855],[0.985,19.840],[0.995,19.825],[1.005,19.850],[1.015,19.830],[1.025,19.850],[1.035,19.845],[1.045,19.865],[1.055,19.855],[1.065,19.875],[1.075,19.865],[1.085,19.885],[1.095,19.880],[1.105,19.898],[1.115,19.892],[1.125,19.912],[1.135,19.905],[1.145,19.922],[1.155,19.918],[1.165,19.935],[1.175,19.928],[1.185,19.945],[1.195,19.940],[1.205,19.955],[1.215,19.950],[1.225,19.962],[1.235,19.955],[1.245,19.972]];

const v341 = [[0.00,21.35],[0.00,21.45],[0.01,21.40],[0.02,21.32],[0.03,21.48],[0.04,21.38],[0.05,21.44],[0.06,21.52],[0.07,21.36],[0.08,21.46],[0.09,21.42],[0.10,21.50],[0.11,21.40],[0.12,21.55],[0.13,21.45],[0.14,21.48],[0.15,21.60],[0.16,21.42],[0.17,21.52],[0.18,21.47],[0.19,21.74],[0.20,21.50],[0.21,21.56],[0.22,21.45],[0.23,21.60],[0.24,21.52],[0.25,21.58],[0.26,21.66],[0.27,21.50],[0.28,21.62],[0.29,21.70],[0.30,21.56],[0.31,21.65],[0.32,21.78],[0.33,21.60],[0.34,21.70],[0.35,21.55],[0.36,21.66],[0.37,21.80],[0.38,21.62],[0.39,21.72],[0.40,21.58],[0.41,21.68],[0.42,21.76],[0.43,21.60],[0.44,21.66],[0.45,21.54],[0.46,21.70],[0.47,21.62],[0.48,21.88],[0.49,21.58],[0.50,21.66],[0.51,21.50],[0.52,21.62],[0.53,21.70],[0.54,21.55],[0.55,21.64],[0.56,21.48],[0.57,21.58],[0.58,21.52],[0.59,21.42],[0.60,21.56],[0.61,21.48],[0.62,21.60],[0.63,21.44],[0.64,21.52],[0.65,21.38],[0.66,21.50],[0.67,21.46],[0.68,21.40],[0.69,21.55],[0.70,21.44],[0.71,21.36],[0.72,21.50],[0.73,21.42],[0.74,21.47],[0.75,21.34],[0.76,21.44],[0.77,21.40],[0.78,21.30],[0.79,21.45],[0.80,21.38],[0.81,21.42],[0.82,21.32],[0.83,21.40],[0.84,21.26],[0.85,21.44],[0.86,21.36],[0.87,21.40],[0.88,21.30],[0.89,21.42],[0.90,21.35],[0.91,21.38],[0.92,21.28],[0.93,21.44],[0.94,21.34],[0.95,21.40],[0.96,21.30],[0.97,21.38],[0.98,21.44],[0.99,21.32],[1.00,21.40],[1.01,21.36],[1.02,21.46],[1.03,21.34],[1.04,21.42],[1.05,21.38],[1.06,21.48],[1.07,21.36],[1.08,21.44],[1.09,21.40],[1.10,21.50],[1.11,21.38],[1.12,21.46],[1.13,21.42],[1.14,21.52],[1.15,21.40],[1.16,21.48],[1.17,21.44],[1.18,21.50],[1.19,21.42],[1.20,21.46],[1.21,21.74],[1.22,21.48],[1.23,21.44],[1.24,21.50],[1.25,21.46],
  [0.005,21.42],[0.015,21.30],[0.025,21.40],[0.035,21.36],[0.045,21.50],[0.055,21.40],[0.065,21.44],[0.075,21.52],[0.085,21.38],[0.095,21.48],[0.105,21.44],[0.115,21.52],[0.125,21.46],[0.135,21.40],[0.145,21.56],[0.155,21.50],[0.165,21.46],[0.175,21.58],[0.185,21.52],[0.195,21.48],[0.205,21.62],[0.215,21.50],[0.225,21.56],[0.235,21.66],[0.245,21.56],[0.255,21.62],[0.265,21.58],[0.275,21.70],[0.285,21.56],[0.295,21.64],[0.305,21.74],[0.315,21.60],[0.325,21.68],[0.335,21.62],[0.345,21.76],[0.355,21.64],[0.365,21.58],[0.375,21.70],[0.385,21.66],[0.395,21.62],[0.405,21.74],[0.415,21.64],[0.425,21.58],[0.435,21.70],[0.445,21.62],[0.455,21.66],[0.465,21.58],[0.475,21.72],[0.485,21.64],[0.495,21.56],[0.505,21.62],[0.515,21.68],[0.525,21.56],[0.535,21.60],[0.545,21.50],[0.555,21.58],[0.565,21.52],[0.575,21.46],[0.585,21.56],[0.595,21.50],[0.605,21.44],[0.615,21.52],[0.625,21.46],[0.635,21.54],[0.645,21.42],[0.655,21.48],[0.665,21.40],[0.675,21.52],[0.685,21.44],[0.695,21.38],[0.705,21.48],[0.715,21.42],[0.725,21.38],[0.735,21.46],[0.745,21.36],[0.755,21.42],[0.765,21.46],[0.775,21.34],[0.785,21.40],[0.795,21.36],[0.805,21.44],[0.815,21.34],[0.825,21.38],[0.835,21.42],[0.845,21.32],[0.855,21.38],[0.865,21.30],[0.875,21.42],[0.885,21.36],[0.895,21.32],[0.905,21.40],[0.915,21.34],[0.925,21.38],[0.935,21.30],[0.945,21.42],[0.955,21.36],[0.965,21.40],[0.975,21.34],[0.985,21.30],[0.995,21.38],[1.005,21.44],[1.015,21.38],[1.025,21.34],[1.035,21.42],[1.045,21.46],[1.055,21.40],[1.065,21.36],[1.075,21.46],[1.085,21.40],[1.095,21.48],[1.105,21.42],[1.115,21.46],[1.125,21.52],[1.135,21.44],[1.145,21.48],[1.155,21.42],[1.165,21.50],[1.175,21.46],[1.185,21.42],[1.195,21.52],[1.205,21.44],[1.215,21.50],[1.225,21.46],[1.235,21.54],[1.245,21.48]];

const v342 = [[0.00,17.740],[0.00,17.760],[0.01,17.750],[0.02,17.735],[0.02,17.768],[0.03,17.755],[0.04,17.745],[0.05,17.762],[0.06,17.770],[0.07,17.758],[0.08,17.775],[0.09,17.768],[0.10,17.780],[0.11,17.772],[0.12,17.785],[0.13,17.778],[0.14,17.790],[0.15,17.785],[0.16,17.795],[0.17,17.790],[0.18,17.800],[0.19,17.795],[0.20,17.805],[0.21,17.800],[0.22,17.812],[0.23,17.806],[0.24,17.816],[0.25,17.810],[0.26,17.822],[0.27,17.815],[0.28,17.826],[0.29,17.820],[0.30,17.830],[0.31,17.824],[0.32,17.834],[0.33,17.828],[0.34,17.838],[0.35,17.832],[0.36,17.840],[0.37,17.835],[0.38,17.842],[0.39,17.836],[0.40,17.845],[0.41,17.838],[0.42,17.848],[0.43,17.840],[0.44,17.852],[0.45,17.842],[0.46,17.858],[0.47,17.840],[0.48,17.848],[0.49,17.838],[0.50,17.845],[0.51,17.834],[0.52,17.842],[0.53,17.830],[0.54,17.838],[0.55,17.826],[0.56,17.832],[0.57,17.820],[0.58,17.828],[0.59,17.815],[0.60,17.822],[0.61,17.810],[0.62,17.816],[0.63,17.805],[0.64,17.812],[0.65,17.800],[0.66,17.806],[0.67,17.795],[0.68,17.800],[0.69,17.790],[0.70,17.796],[0.71,17.785],[0.72,17.790],[0.73,17.780],[0.74,17.786],[0.75,17.775],[0.76,17.782],[0.77,17.770],[0.78,17.778],[0.79,17.766],[0.80,17.772],[0.81,17.762],[0.82,17.768],[0.83,17.758],[0.84,17.765],[0.85,17.755],[0.86,17.762],[0.87,17.750],[0.88,17.760],[0.89,17.748],[0.90,17.758],[0.91,17.740],[0.92,17.756],[0.93,17.735],[0.94,17.755],[0.95,17.745],[0.96,17.758],[0.97,17.732],[0.98,17.760],[0.99,17.740],[1.00,17.762],[1.01,17.748],[1.02,17.765],[1.03,17.752],[1.04,17.768],[1.05,17.758],[1.06,17.772],[1.07,17.765],[1.08,17.776],[1.09,17.770],[1.10,17.780],[1.11,17.776],[1.12,17.785],[1.13,17.782],[1.14,17.790],[1.15,17.788],[1.16,17.795],[1.17,17.792],[1.18,17.800],[1.19,17.796],[1.20,17.805],[1.21,17.800],[1.22,17.810],[1.23,17.806],[1.24,17.815],[1.25,17.820],
  [0.005,17.752],[0.015,17.742],[0.025,17.760],[0.035,17.748],[0.045,17.766],[0.055,17.752],[0.065,17.762],[0.075,17.770],[0.085,17.765],[0.095,17.778],[0.105,17.772],[0.115,17.784],[0.125,17.778],[0.135,17.786],[0.145,17.782],[0.155,17.792],[0.165,17.788],[0.175,17.798],[0.185,17.792],[0.195,17.804],[0.205,17.798],[0.215,17.808],[0.225,17.802],[0.235,17.815],[0.245,17.808],[0.255,17.818],[0.265,17.814],[0.275,17.826],[0.285,17.818],[0.295,17.828],[0.305,17.822],[0.315,17.834],[0.325,17.826],[0.335,17.836],[0.345,17.830],[0.355,17.842],[0.365,17.834],[0.375,17.846],[0.385,17.838],[0.395,17.848],[0.405,17.840],[0.415,17.852],[0.425,17.842],[0.435,17.846],[0.445,17.838],[0.455,17.850],[0.465,17.836],[0.475,17.846],[0.485,17.834],[0.495,17.842],[0.505,17.832],[0.515,17.840],[0.525,17.828],[0.535,17.834],[0.545,17.824],[0.555,17.830],[0.565,17.818],[0.575,17.824],[0.585,17.812],[0.595,17.818],[0.605,17.808],[0.615,17.814],[0.625,17.802],[0.635,17.808],[0.645,17.798],[0.655,17.802],[0.665,17.792],[0.675,17.798],[0.685,17.788],[0.695,17.792],[0.705,17.782],[0.715,17.788],[0.725,17.778],[0.735,17.784],[0.745,17.772],[0.755,17.778],[0.765,17.768],[0.775,17.774],[0.785,17.762],[0.795,17.770],[0.805,17.758],[0.815,17.766],[0.825,17.755],[0.835,17.762],[0.845,17.750],[0.855,17.758],[0.865,17.746],[0.875,17.754],[0.885,17.744],[0.895,17.752],[0.905,17.735],[0.915,17.752],[0.925,17.742],[0.935,17.750],[0.945,17.730],[0.955,17.752],[0.965,17.740],[0.975,17.755],[0.985,17.735],[0.995,17.755],[1.005,17.744],[1.015,17.760],[1.025,17.748],[1.035,17.762],[1.045,17.754],[1.055,17.766],[1.065,17.760],[1.075,17.770],[1.085,17.766],[1.095,17.776],[1.105,17.772],[1.115,17.782],[1.125,17.778],[1.135,17.786],[1.145,17.784],[1.155,17.792],[1.165,17.790],[1.175,17.798],[1.185,17.794],[1.195,17.802],[1.205,17.798],[1.215,17.806],[1.225,17.804],[1.235,17.812],[1.245,17.808]];

const v344 = [[0.00,18.100],[0.01,18.106],[0.02,18.098],[0.03,18.104],[0.04,18.110],[0.05,18.100],[0.06,18.106],[0.07,18.096],[0.08,18.104],[0.09,18.110],[0.10,18.100],[0.11,18.106],[0.12,18.098],[0.13,18.104],[0.14,18.110],[0.15,18.102],[0.16,18.108],[0.17,18.100],[0.18,18.106],[0.19,18.112],[0.20,18.104],[0.21,18.110],[0.22,18.114],[0.23,18.118],[0.24,18.122],[0.25,18.126],[0.26,18.130],[0.27,18.134],[0.28,18.138],[0.29,18.140],[0.30,18.146],[0.31,18.148],[0.32,18.152],[0.33,18.156],[0.34,18.158],[0.35,18.162],[0.36,18.166],[0.37,18.168],[0.38,18.172],[0.39,18.176],[0.40,18.178],[0.41,18.182],[0.42,18.184],[0.43,18.188],[0.44,18.190],[0.45,18.194],[0.46,18.196],[0.47,18.200],[0.48,18.202],[0.49,18.205],[0.50,18.208],[0.51,18.212],[0.52,18.214],[0.53,18.218],[0.54,18.222],[0.55,18.226],[0.55,18.212],[0.56,18.232],[0.56,18.204],[0.57,18.240],[0.57,18.215],[0.58,18.248],[0.58,18.205],[0.59,18.222],[0.60,18.200],[0.61,18.210],[0.62,18.192],[0.63,18.198],[0.64,18.182],[0.65,18.186],[0.66,18.170],[0.67,18.175],[0.68,18.160],[0.69,18.164],[0.70,18.150],[0.71,18.152],[0.72,18.140],[0.73,18.142],[0.74,18.130],[0.75,18.132],[0.76,18.120],[0.77,18.122],[0.78,18.112],[0.79,18.108],[0.80,18.100],[0.86,18.102],[0.87,18.110],[0.88,18.098],[0.89,18.104],[0.90,18.092],[0.91,18.108],[0.92,18.100],[0.93,18.096],[0.94,18.106],[0.95,18.100],[0.96,18.090],[0.97,18.104],[0.98,18.110],[0.99,18.098],[1.00,18.102],[1.01,18.094],[1.02,18.108],[1.03,18.100],[1.04,18.096],[1.05,18.106],[1.06,18.112],[1.07,18.100],[1.08,18.094],[1.09,18.104],[1.10,18.108],[1.11,18.098],[1.12,18.102],[1.13,18.092],[1.14,18.106],[1.15,18.100],[1.16,18.110],[1.17,18.096],[1.18,18.104],[1.19,18.100],[1.20,18.108],[1.21,18.098],[1.22,18.104],[1.23,18.100],[1.24,18.106],[1.25,18.102],
  [0.005,18.104],[0.015,18.096],[0.025,18.108],[0.035,18.100],[0.045,18.096],[0.055,18.108],[0.065,18.100],[0.075,18.106],[0.085,18.098],[0.095,18.104],[0.105,18.110],[0.115,18.100],[0.125,18.106],[0.135,18.096],[0.145,18.104],[0.155,18.110],[0.165,18.100],[0.175,18.108],[0.185,18.102],[0.195,18.106],[0.205,18.112],[0.215,18.106],[0.225,18.120],[0.235,18.114],[0.245,18.128],[0.255,18.122],[0.265,18.136],[0.275,18.130],[0.285,18.144],[0.295,18.136],[0.305,18.150],[0.315,18.144],[0.325,18.158],[0.335,18.150],[0.345,18.164],[0.355,18.158],[0.365,18.170],[0.375,18.164],[0.385,18.178],[0.395,18.170],[0.405,18.184],[0.415,18.178],[0.425,18.190],[0.435,18.184],[0.445,18.196],[0.455,18.190],[0.465,18.204],[0.475,18.196],[0.485,18.208],[0.495,18.200],[0.505,18.214],[0.515,18.206],[0.525,18.220],[0.535,18.210],[0.545,18.230],[0.555,18.220],[0.565,18.236],[0.575,18.228],[0.585,18.215],[0.595,18.232],[0.605,18.208],[0.615,18.196],[0.625,18.204],[0.635,18.188],[0.645,18.192],[0.655,18.178],[0.665,18.180],[0.675,18.166],[0.685,18.170],[0.695,18.156],[0.705,18.158],[0.715,18.146],[0.725,18.148],[0.735,18.136],[0.745,18.138],[0.755,18.126],[0.765,18.128],[0.775,18.116],[0.785,18.118],[0.795,18.106],[0.865,18.096],[0.875,18.104],[0.885,18.110],[0.895,18.098],[0.905,18.102],[0.915,18.094],[0.925,18.106],[0.935,18.112],[0.945,18.096],[0.955,18.104],[0.965,18.108],[0.975,18.094],[0.985,18.102],[0.995,18.108],[1.005,18.096],[1.015,18.104],[1.025,18.098],[1.035,18.110],[1.045,18.102],[1.055,18.096],[1.065,18.104],[1.075,18.108],[1.085,18.100],[1.095,18.096],[1.105,18.104],[1.115,18.110],[1.125,18.098],[1.135,18.104],[1.145,18.096],[1.155,18.104],[1.165,18.100],[1.175,18.108],[1.185,18.094],[1.195,18.104],[1.205,18.100],[1.215,18.108],[1.225,18.096],[1.235,18.104],[1.245,18.100]];

const curves = [v277, v279, v283, v293, v295, v305, v318, v322, v325, v333, v339, v341, v342, v344];

// panel frames: left, top, width, height; V range; minor step; title / period x offsets; phase labels
const panels = [
  { box: [62, 5, 131, 102],   yr: [15.739, 15.849], minor: 0.005, tx: 12, px: 75, xl: false },
  { box: [257, 5, 131, 102],  yr: [18.5, 19.09],    minor: 0.05,  tx: 4,  px: 85, xl: false },
  { box: [452, 5, 131, 102],  yr: [17.089, 17.232], minor: 0.01,  tx: 12, px: 85, xl: false },
  { box: [648, 5, 132, 102],  yr: [18.012, 18.328], minor: 0.02,  tx: 12, px: 81, xl: false },
  { box: [843, 5, 130, 102],  yr: [19.375, 19.694], minor: 0.02,  tx: 12, px: 74, xl: false },
  { box: [62, 121, 131, 101], yr: [18.484, 18.664], minor: 0.01,  tx: 10, px: 75, xl: false },
  { box: [257, 120, 131, 102], yr: [19.025, 19.2375], minor: 0.01, tx: 3, px: 75, xl: false },
  { box: [452, 120, 131, 102], yr: [18.982, 19.132], minor: 0.01, tx: 3,  px: 74, xl: false },
  { box: [648, 119, 132, 103], yr: [18.671, 18.829], minor: 0.01, tx: 6,  px: 81, xl: false },
  { box: [843, 118, 130, 103], yr: [18.8, 19.3],     minor: 0.02, tx: 12, px: 74, xl: true },
  { box: [62, 233, 131, 104], yr: [19.636, 20.19],   minor: 0.02, tx: 11, px: 75, xl: true },
  { box: [257, 233, 131, 104], yr: [20.895, 22.0],   minor: 0.05, tx: 11, px: 75, xl: true },
  { box: [452, 233, 131, 104], yr: [17.657, 17.883], minor: 0.01, tx: 2,  px: 75, xl: true },
  { box: [648, 238, 132, 99], yr: [18.02, 18.283],   minor: 0.02, tx: 10, px: 75, xl: true }
];

const tickFont = { fontFamily: 'DejaVu Sans', fontWeight: 'bold', fontSize: 13, color: '#000' };

function steps(lo, hi, step, skip) {
  const out = [];
  const start = Math.ceil(lo / step - 1e-6);
  for (let k = start; k * step <= hi + 1e-9; k++) {
    const v = Number((k * step).toFixed(4));
    if (!skip.some(s => Math.abs(s - v) < 1e-6)) out.push(v);
  }
  return out;
}

const grids = [], xAxes = [], yAxes = [], series = [], texts = [];
const xMinor = steps(-0.2, 1.4, 0.1, xLabels);

panels.forEach((p, i) => {
  const [l, t, w, h] = p.box;
  grids.push({ left: l, top: t, width: w, height: h, containLabel: false, outerBoundsMode: 'none' });
  const yMinor = steps(p.yr[0], p.yr[1], p.minor, yLabels[i]);

  const xa = (pos, major, labels) => ({
    gridIndex: i, type: 'value', min: -0.2, max: 1.4, position: pos,
    axisLine: { show: major, onZero: false, lineStyle: { color: '#000', width: 2 } },
    axisTick: { show: true, inside: true, length: major ? 6 : 3, customValues: major ? xLabels : xMinor, lineStyle: { color: '#000', width: 1.3 } },
    axisLabel: labels ? Object.assign({ show: true, margin: 8, customValues: xLabels }, tickFont) : { show: false },
    splitLine: { show: false }
  });
  xAxes.push(xa('bottom', true, p.xl), xa('bottom', false, false), xa('top', true, false), xa('top', false, false));

  const ya = (pos, major, labels) => ({
    gridIndex: i, type: 'value', inverse: true, min: p.yr[0], max: p.yr[1], position: pos,
    axisLine: { show: major, onZero: false, lineStyle: { color: '#000', width: 2 } },
    axisTick: { show: true, inside: true, length: major ? 6 : 3, customValues: major ? yLabels[i] : yMinor, lineStyle: { color: '#000', width: 1.3 } },
    axisLabel: labels ? Object.assign({ show: true, margin: 9, customValues: yLabels[i] }, tickFont) : { show: false },
    splitLine: { show: false }
  });
  yAxes.push(ya('left', true, true), ya('left', false, false), ya('right', true, false), ya('right', false, false));

  series.push({
    type: 'scatter', xAxisIndex: 4 * i, yAxisIndex: 4 * i, data: curves[i],
    symbol: 'rect', symbolSize: 2.5, itemStyle: { color: '#000' }, silent: true, animation: false
  });

  texts.push({
    type: 'text', x: l + p.tx, y: t + 17.5,
    style: { text: stars[i], fontFamily: 'Liberation Sans', fontWeight: 'bold', fontSize: 17.5, fill: '#000', verticalAlign: 'middle', textVerticalAlign: 'middle' }
  });
  texts.push({
    type: 'text', x: l + p.px, y: t + 19,
    style: { text: periods[i], fontFamily: 'DejaVu Sans', fontWeight: 'bold', fontSize: 11.5, fill: '#000', verticalAlign: 'middle', textVerticalAlign: 'middle' }
  });
});

// "18" label of V344 sits just above its frame
texts.push({
  type: 'text', x: 639, y: 231,
  style: { text: '18', fontFamily: 'DejaVu Sans', fontWeight: 'bold', fontSize: 13, fill: '#000', align: 'right', textAlign: 'right', verticalAlign: 'middle', textVerticalAlign: 'middle' }
});
texts.push({
  type: 'text', x: 13, y: 124,
  style: { text: 'V', fontFamily: 'Liberation Serif', fontSize: 38, fill: '#000', align: 'center', textAlign: 'center', verticalAlign: 'middle', textVerticalAlign: 'middle' }
});
texts.push({
  type: 'text', x: 511, y: 370,
  style: { text: 'phase', fontFamily: 'Liberation Serif', fontSize: 38, fill: '#000', align: 'center', textAlign: 'center', verticalAlign: 'middle', textVerticalAlign: 'middle' }
});

const chart = echarts.init(document.getElementById('chart'), null, { renderer: 'canvas' });
chart.setOption({
  backgroundColor: '#fff',
  animation: false,
  grid: grids,
  xAxis: xAxes,
  yAxis: yAxes,
  series: series,
  graphic: { elements: texts }
});
</script>
</body>
</html>
